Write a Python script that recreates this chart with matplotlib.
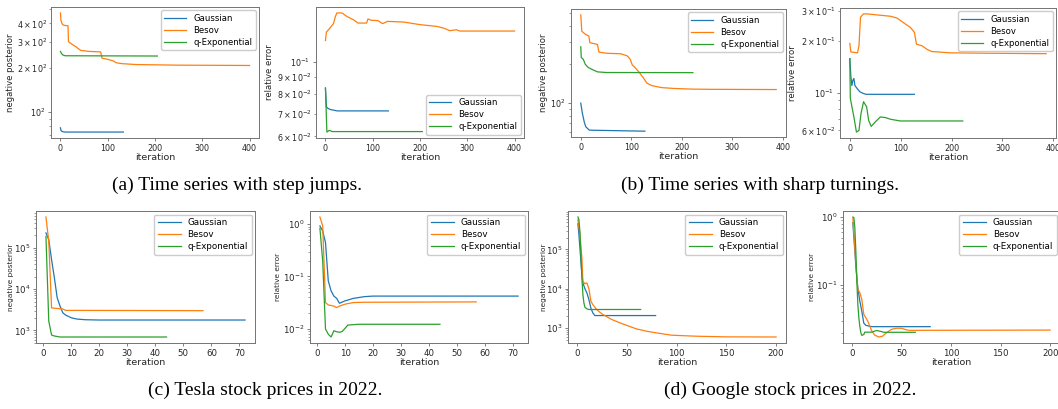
import numpy as np
import matplotlib
matplotlib.use("Agg")
import matplotlib.pyplot as plt
from matplotlib.ticker import NullFormatter

W, H = 1058, 409

# (a) time series with step jumps
a_post_gauss_it = [0, 1, 3, 6, 10, 133]
a_post_gauss = [78, 75, 73.8, 73.3, 73.0, 73.0]
a_post_besov_it = [0, 1, 3, 5, 8, 16, 17, 20, 33, 43, 60, 85, 88, 100, 112, 118, 130, 160, 250, 400]
a_post_besov = [471, 420, 400, 392, 388, 385, 300, 295, 277, 262, 258, 256, 232, 228, 222, 216, 213, 210, 208, 207]
a_post_qexp_it = [0, 2, 5, 10, 205]
a_post_qexp = [258, 250, 244, 241, 240]

a_err_gauss_it = [0, 2, 5, 10, 25, 133]
a_err_gauss = [0.0833, 0.0734, 0.0727, 0.0721, 0.0714, 0.0714]
a_err_besov_it = [0, 2, 10, 17, 21, 24, 35, 45, 59, 69, 87, 90, 97, 111, 121, 131, 166, 200, 235, 250, 263, 277, 284, 400]
a_err_besov = [0.1155, 0.1223, 0.126, 0.1296, 0.136, 0.1394, 0.1394, 0.1362, 0.1331, 0.1301, 0.1301, 0.1338,
               0.1326, 0.1323, 0.1296, 0.1316, 0.1310, 0.1287, 0.1272, 0.1257, 0.1235, 0.1243, 0.1232, 0.1232]
a_err_qexp_it = [0, 3, 8, 15, 205]
a_err_qexp = [0.0836, 0.0618, 0.0625, 0.0620, 0.0620]

# (b) time series with sharp turnings
b_post_gauss_it = [0, 3, 7, 10, 17, 127]
b_post_gauss = [100, 84, 71, 65.4, 61.6, 60.5]
b_post_besov_it = [0, 2, 10, 16, 18, 33, 36, 52, 79, 92, 98, 102, 108, 116, 125, 131, 140, 160, 185, 220, 260, 387]
b_post_besov = [486, 362, 341, 332, 295, 286, 249, 244, 242, 233, 219, 198, 188, 173, 155, 143, 137, 132,
                130, 128.5, 128, 127.5]
b_post_qexp_it = [0, 1, 5, 9, 15, 22, 33, 50, 222]
b_post_qexp = [274, 226, 219, 200, 189, 183, 175, 173, 172.5]

b_err_gauss_it = [0, 2, 4, 6, 8, 10, 14, 20, 26, 32, 127]
b_err_gauss = [0.158, 0.125, 0.110, 0.118, 0.121, 0.110, 0.106, 0.101, 0.099, 0.0977, 0.0977]
b_err_besov_it = [0, 2, 15, 18, 21, 27, 34, 54, 80, 93, 109, 119, 127, 131, 142, 152, 161, 197, 276, 386]
b_err_besov = [0.194, 0.173, 0.171, 0.188, 0.2765, 0.289, 0.289, 0.285, 0.280, 0.273, 0.2525, 0.241, 0.2253,
               0.192, 0.188, 0.179, 0.174, 0.171, 0.170, 0.169]
b_err_qexp_it = [0, 1, 8, 13, 18, 22, 27, 33, 37, 42, 50, 60, 70, 80, 99, 222]
b_err_qexp = [0.158, 0.0925, 0.072, 0.0587, 0.060, 0.0754, 0.0884, 0.0826, 0.0688, 0.0634, 0.0673, 0.072,
              0.0714, 0.0698, 0.0682, 0.0682]

# (c) Tesla
c_post_gauss_it = [1, 2, 3, 4, 5, 6, 7, 8, 10, 12, 15, 20, 72]
c_post_gauss = [2.3e5, 1.58e5, 5.2e4, 1.88e4, 6.2e3, 3.9e3, 2.67e3, 2.35e3, 2.02e3, 1.88e3, 1.81e3, 1.78e3, 1.78e3]
c_post_besov_it = [1, 2, 3, 5, 7, 8, 57]
c_post_besov = [5.6e5, 1.44e5, 3.5e3, 3.4e3, 3.3e3, 3.05e3, 3.0e3]
c_post_qexp_it = [1, 2, 3, 4, 6, 44]
c_post_qexp = [1.9e5, 1.68e3, 770, 730, 690, 690]

c_err_gauss_it = [1, 2, 3, 4, 5, 6, 7, 8, 10, 13, 17, 20, 72]
c_err_gauss = [0.93, 0.745, 0.445, 0.082, 0.053, 0.042, 0.038, 0.0306, 0.034, 0.038, 0.041, 0.042, 0.042]
c_err_besov_it = [1, 2, 3, 4, 6, 7, 8, 10, 13, 17, 57]
c_err_besov = [1.38, 0.93, 0.0316, 0.0284, 0.027, 0.0253, 0.027, 0.0294, 0.0316, 0.032, 0.0325]
c_err_qexp_it = [1, 2, 3, 4, 5, 6, 7, 8, 9, 10, 11, 15, 44]
c_err_qexp = [0.84, 0.198, 0.0098, 0.0078, 0.0069, 0.0091, 0.0087, 0.0085, 0.0088, 0.0101, 0.0117, 0.0121, 0.0121]

# (d) Google
d_post_gauss_it = [1, 2, 4, 5, 6, 8, 10, 12, 14, 16, 18, 79]
d_post_gauss = [4.5e5, 2.4e5, 5e4, 2.3e4, 1.4e4, 1.0e4, 7.8e3, 5.3e3, 3.2e3, 2.4e3, 2.06e3, 2.06e3]
d_post_besov_it = [1, 3, 5, 6, 8, 10, 12, 14, 16, 20, 25, 35, 45, 55, 60, 70, 80, 95, 120, 150, 200]
d_post_besov = [5.8e5, 2.4e5, 6.1e4, 1.55e4, 1.33e4, 1.4e4, 1.0e4, 4.8e3, 3.9e3, 2.9e3, 2.28e3, 1.63e3, 1.29e3,
                1.04e3, 940, 820, 745, 650, 612, 590, 585]
d_post_qexp_it = [1, 2, 3, 4, 5, 6, 7, 8, 10, 12, 64]
d_post_qexp = [6.7e5, 5.8e5, 2.9e5, 7.5e4, 1.9e4, 7.1e3, 4.35e3, 3.37e3, 3.05e3, 2.94e3, 2.94e3]

d_err_gauss_it = [1, 2, 3, 4, 5, 6, 8, 10, 12, 14, 17, 20, 79]
d_err_gauss = [0.826, 0.5, 0.318, 0.19, 0.13, 0.092, 0.059, 0.042, 0.028, 0.026, 0.0253, 0.0248, 0.0248]
d_err_besov_it = [1, 3, 5, 6, 8, 10, 12, 14, 16, 18, 20, 23, 27, 31, 35, 40, 45, 50, 55, 58, 200]
d_err_besov = [0.955, 0.356, 0.13, 0.087, 0.078, 0.0625, 0.0376, 0.0337, 0.030, 0.0253, 0.0215, 0.0187, 0.0175,
               0.018, 0.0203, 0.0227, 0.0235, 0.0235, 0.0223, 0.0219, 0.0221]
d_err_qexp_it = [1, 2, 3, 4, 5, 6, 7, 8, 9, 10, 12, 13, 20, 25, 30, 32, 64]
d_err_qexp = [1.0, 0.98, 0.70, 0.318, 0.116, 0.053, 0.0337, 0.0253, 0.0203, 0.0185, 0.019, 0.0206, 0.0206,
              0.0218, 0.021, 0.0205, 0.0205]

labels = ["Gaussian", "Besov", "q-Exponential"]
captions = ["(a) Time series with step jumps.", "(b) Time series with sharp turnings.",
            "(c) Tesla stock prices in 2022.", "(d) Google stock prices in 2022."]

fig = plt.figure(figsize=(W / 100, H / 100), dpi=100)


def make_axes(l, t, r, b):
    return fig.add_axes([l / W, 1 - b / H, (r - l) / W, (b - t) / H])


def panel(box, series, ylabel, ylab_right, legend_loc, top_row, minor_null=False):
    ax = make_axes(*box)
    for (it, v), name, c in zip(series, labels, ["C0", "C1", "C2"]):
        ax.plot(it, v, color=c, lw=0.9, label=name)
    ax.set_yscale("log")
    fs_tick = 5.8 if top_row else 6.2
    ax.tick_params(which="both", labelsize=fs_tick, length=2.2, width=0.5, pad=1.8,
                   color="0.3", labelcolor="0.15")
    ax.tick_params(which="minor", length=1.3, width=0.4)
    if minor_null:
        ax.yaxis.set_minor_formatter(NullFormatter())
    for s in ax.spines.values():
        s.set_color("0.45")
        s.set_linewidth(0.7)
    ax.set_xlabel("iteration", fontsize=6.8, labelpad=0.5, color="0.15")
    ax.set_ylabel(ylabel, fontsize=6.1 if top_row else 5.3, color="0.15")
    l, t, r, b = box
    ax.yaxis.set_label_coords((ylab_right - l) / (r - l), 0.5)
    ax.legend(loc=legend_loc, fontsize=6.1 if top_row else 6.3, handlelength=2.6,
              borderaxespad=0.4, labelspacing=0.35, framealpha=1, edgecolor="0.8")
    return ax


panel((51, 7, 259, 138),
      [(a_post_gauss_it, a_post_gauss), (a_post_besov_it, a_post_besov), (a_post_qexp_it, a_post_qexp)],
      "negative posterior", 15, "upper right", True)
panel((316, 7, 524, 138),
      [(a_err_gauss_it, a_err_gauss), (a_err_besov_it, a_err_besov), (a_err_qexp_it, a_err_qexp)],
      "relative error", 274, "lower right", True)
panel((571, 9, 786, 137),
      [(b_post_gauss_it, b_post_gauss), (b_post_besov_it, b_post_besov), (b_post_qexp_it, b_post_qexp)],
      "negative posterior", 548, "upper right", True, minor_null=True)
panel((840, 8, 1056, 138),
      [(b_err_gauss_it, b_err_gauss), (b_err_besov_it, b_err_besov), (b_err_qexp_it, b_err_qexp)],
      "relative error", 797, "upper right", True)

panel((36, 211, 255, 343),
      [(c_post_gauss_it, c_post_gauss), (c_post_besov_it, c_post_besov), (c_post_qexp_it, c_post_qexp)],
      "negative posterior", 14, "upper right", False)
panel((310, 211, 528, 343),
      [(c_err_gauss_it, c_err_gauss), (c_err_besov_it, c_err_besov), (c_err_qexp_it, c_err_qexp)],
      "relative error", 281, "upper right", False)
panel((568, 211, 786, 343),
      [(d_post_gauss_it, d_post_gauss), (d_post_besov_it, d_post_besov), (d_post_qexp_it, d_post_qexp)],
      "negative posterior", 547, "upper right", False)
panel((843, 211, 1060, 343),
      [(d_err_gauss_it, d_err_gauss), (d_err_besov_it, d_err_besov), (d_err_qexp_it, d_err_qexp)],
      "relative error", 815, "upper right", False)

cap_pos = [(237, 190), (760, 190), (265, 395), (790, 395)]
for txt, (x, y) in zip(captions, cap_pos):
    fig.text(x / W, 1 - y / H, txt, ha="center", va="baseline", fontsize=14,
             family="Liberation Serif", color="black")

fig.savefig("out.png", dpi=100)
